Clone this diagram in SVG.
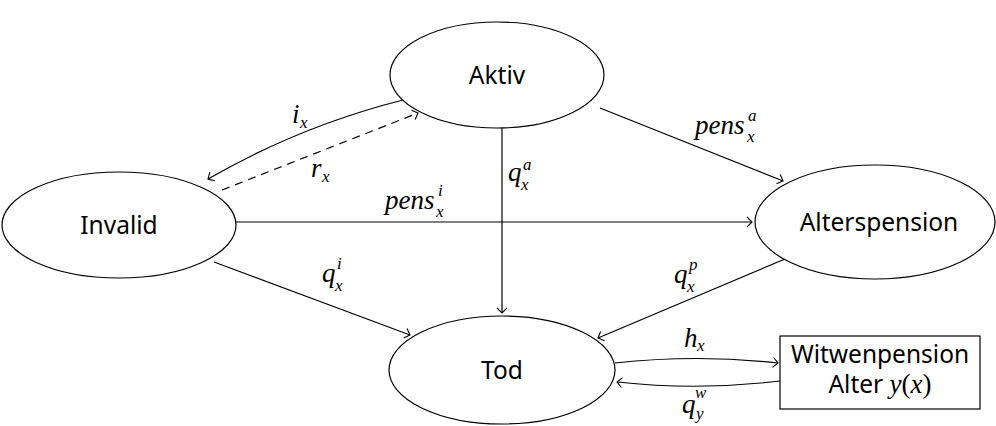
<svg xmlns="http://www.w3.org/2000/svg" width="996" height="426" viewBox="0 0 996 426">
<defs>
<style>
.node{fill:#fff;stroke:#000;stroke-width:1.2}
.lbl{font-family:"Noto Sans","Open Sans",sans-serif;font-size:24.5px;fill:#000;text-anchor:middle}
.m{font-family:"Liberation Serif","DejaVu Serif",serif;font-style:italic;font-size:27px;fill:#000}
.s{font-size:17px}
.c{fill:none;stroke:#000;stroke-width:1.2}
.d{stroke-dasharray:8 6}
</style>
<marker id="ah" viewBox="-6 -6 8 12" markerWidth="8" markerHeight="12" refX="0" refY="0" orient="auto" markerUnits="userSpaceOnUse">
<path d="M-5,-5 Q-1,-1 0,0 Q-1,1 -5,5" fill="none" stroke="#000" stroke-width="1.1"/>
</marker>
</defs>
<g id="connectors">
<path class="c" d="M403,100 Q300,126 208,179" marker-end="url(#ah)"/>
<path class="c d" d="M222,190 L418,113" marker-end="url(#ah)"/>
<path class="c" d="M600,108 L783,181" marker-end="url(#ah)"/>
<path class="c" d="M236,222 L752,222" marker-end="url(#ah)"/>
<path class="c" d="M502,127 L502,313" marker-end="url(#ah)"/>
<path class="c" d="M214,262 L410,335" marker-end="url(#ah)"/>
<path class="c" d="M785,259 L598,338" marker-end="url(#ah)"/>
<path class="c" d="M615,363 Q697,354 778,363" marker-end="url(#ah)"/>
<path class="c" d="M780,381 Q698,391 617,382" marker-end="url(#ah)"/>
<text class="m" x="292" y="123">i<tspan class="s" x="300" y="128">x</tspan></text>
<text class="m" x="311" y="177">r<tspan class="s" x="322" y="182">x</tspan></text>
<text class="m" x="695" y="134">pens</text><text class="m s" x="748" y="121">a</text><text class="m s" x="747" y="142">x</text>
<text class="m" x="385" y="209">pens</text><text class="m s" x="438" y="196">i</text><text class="m s" x="436" y="217">x</text>
<text class="m" x="508" y="181">q</text><text class="m s" x="523" y="170">a</text><text class="m s" x="521" y="190">x</text>
<text class="m" x="322" y="282">q</text><text class="m s" x="337" y="269">i</text><text class="m s" x="335" y="291">x</text>
<text class="m" x="674" y="283">q</text><text class="m s" x="689" y="270">p</text><text class="m s" x="687" y="292">x</text>
<text class="m" x="684" y="347">h<tspan class="s" x="697" y="351">x</tspan></text>
<text class="m" x="682" y="413">q</text><text class="m s" x="695" y="398">w</text><text class="m s" x="696" y="419">y</text>
</g>
<g id="aktiv"><ellipse class="node" cx="497" cy="75" rx="107" ry="53"/><text class="lbl" x="497" y="84">Aktiv</text></g>
<g id="invalid"><ellipse class="node" cx="119" cy="225" rx="117" ry="53"/><text class="lbl" x="119" y="234">Invalid</text></g>
<g id="alterspension"><ellipse class="node" cx="875" cy="222" rx="120" ry="57"/><text class="lbl" x="879" y="231">Alterspension</text></g>
<g id="tod"><ellipse class="node" cx="502" cy="370" rx="113" ry="54"/><text class="lbl" x="502" y="379">Tod</text></g>
<g id="witwenpension"><rect class="node" x="780" y="336" width="200" height="73"/><text class="lbl" x="880" y="363">Witwenpension</text><text class="lbl" x="880" y="393">Alter <tspan class="m" style="font-size:27px">y</tspan><tspan font-family="Liberation Serif" font-size="27">(</tspan><tspan class="m" style="font-size:27px">x</tspan><tspan font-family="Liberation Serif" font-size="27">)</tspan></text></g>
</svg>
